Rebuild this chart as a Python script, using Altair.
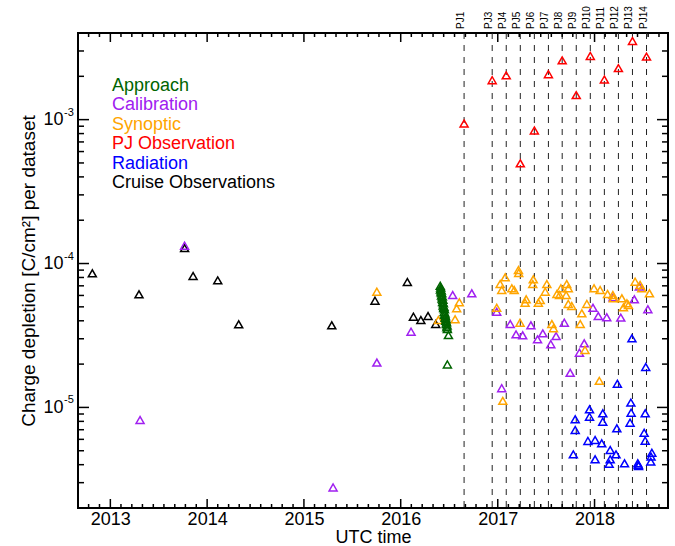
import altair as alt
import pandas as pd

# ---------------- data ----------------
# Perijove passes marked by dashed lines (PJ2 has no entry)
pj_names = ["PJ1", "PJ3", "PJ4", "PJ5", "PJ6", "PJ7", "PJ8", "PJ9",
            "PJ10", "PJ11", "PJ12", "PJ13", "PJ14"]
pj_dates = ["2016-08-27", "2016-12-11", "2017-02-02", "2017-03-27", "2017-05-19",
            "2017-07-11", "2017-09-01", "2017-10-24", "2017-12-16", "2018-02-07",
            "2018-04-01", "2018-05-24", "2018-07-16"]

cruise_dates = ["2012-10-25", "2013-04-19", "2013-10-08", "2013-11-09", "2014-02-10",
                "2014-04-30", "2015-04-16", "2015-09-26", "2016-01-26", "2016-02-18",
                "2016-03-17", "2016-04-13", "2016-05-12"]
cruise_vals = [8.55e-5, 6.11e-5, 1.28e-4, 8.19e-5, 7.64e-5,
               3.78e-5, 3.72e-5, 5.52e-5, 7.44e-5, 4.27e-5,
               4.05e-5, 4.32e-5, 3.80e-5]

calib_dates = ["2013-04-23", "2013-10-08", "2015-04-21", "2015-10-03", "2016-02-09",
               "2016-07-15", "2016-09-25", "2016-12-28", "2017-01-16", "2017-02-17",
               "2017-03-11", "2017-04-05", "2017-05-06", "2017-05-31", "2017-06-20",
               "2017-07-20", "2017-08-09", "2017-09-09", "2017-10-01", "2017-11-05",
               "2017-11-23", "2017-12-26", "2018-01-15", "2018-02-16", "2018-03-12",
               "2018-04-10", "2018-05-31", "2018-06-19", "2018-07-21"]
calib_vals = [8.18e-6, 1.33e-4, 2.78e-6, 2.05e-5, 3.36e-5,
              6.04e-5, 6.21e-5, 4.62e-5, 1.36e-5, 3.80e-5,
              3.22e-5, 3.17e-5, 3.72e-5, 2.97e-5, 3.27e-5,
              2.75e-5, 3.13e-5, 3.88e-5, 1.74e-5, 2.40e-5,
              2.79e-5, 4.93e-5, 4.32e-5, 4.23e-5, 5.82e-5,
              4.21e-5, 5.64e-5, 6.92e-5, 4.81e-5]

synop_dates = ["2015-10-03", "2016-05-22", "2016-07-24", "2016-07-30", "2016-08-09",
               "2016-12-28", "2017-01-10", "2017-01-16", "2017-01-20", "2017-01-29",
               "2017-02-23", "2017-03-04", "2017-03-20", "2017-03-21", "2017-03-26",
               "2017-04-14", "2017-04-18", "2017-05-13", "2017-05-15", "2017-06-03",
               "2017-06-10", "2017-06-29", "2017-07-05", "2017-07-24", "2017-07-30",
               "2017-08-12", "2017-08-22", "2017-08-27", "2017-09-16", "2017-09-18",
               "2017-09-24", "2017-09-24", "2017-10-07", "2017-11-08", "2017-11-14",
               "2017-11-26", "2017-12-03", "2017-12-30", "2018-01-19", "2018-01-22",
               "2018-02-19", "2018-03-11", "2018-03-13", "2018-04-14", "2018-04-20",
               "2018-05-03", "2018-05-09", "2018-06-03", "2018-06-22", "2018-06-28",
               "2018-07-27"]
synop_vals = [6.37e-5, 4.05e-5, 4.10e-5, 4.89e-5, 5.38e-5,
              4.93e-5, 7.21e-5, 6.55e-5, 1.11e-5, 8.02e-5,
              6.73e-5, 6.55e-5, 9.02e-5, 8.60e-5, 3.88e-5,
              5.34e-5, 5.64e-5, 7.21e-5, 7.77e-5, 5.34e-5,
              5.58e-5, 6.37e-5, 7.21e-5, 3.80e-5, 3.55e-5,
              6.14e-5, 6.04e-5, 6.73e-5, 6.04e-5, 7.21e-5,
              6.73e-5, 5.24e-5, 5.07e-5, 3.80e-5, 4.51e-5,
              2.51e-5, 5.24e-5, 6.73e-5, 1.53e-5, 6.55e-5,
              6.14e-5, 6.04e-5, 5.73e-5, 5.73e-5, 4.96e-5,
              5.29e-5, 5.15e-5, 7.48e-5, 7.10e-5, 6.73e-5,
              6.21e-5]

approach_dates = ["2016-05-29", "2016-05-30", "2016-05-31", "2016-06-01", "2016-06-02",
                  "2016-06-03", "2016-06-04", "2016-06-05", "2016-06-06", "2016-06-07",
                  "2016-06-08", "2016-06-09", "2016-06-10", "2016-06-11", "2016-06-12",
                  "2016-06-13", "2016-06-14", "2016-06-15", "2016-06-16", "2016-06-17",
                  "2016-06-18", "2016-06-19", "2016-06-20", "2016-06-21", "2016-06-22",
                  "2016-06-23", "2016-06-24", "2016-06-25", "2016-06-25", "2016-06-29"]
approach_vals = [7.0e-5, 6.6e-5, 6.8e-5, 6.3e-5, 6.5e-5,
                 6.0e-5, 6.2e-5, 5.7e-5, 5.9e-5, 5.4e-5,
                 5.6e-5, 5.1e-5, 5.3e-5, 4.9e-5, 5.0e-5,
                 4.6e-5, 4.8e-5, 4.4e-5, 4.5e-5, 4.2e-5,
                 4.3e-5, 4.0e-5, 4.1e-5, 3.8e-5, 3.9e-5,
                 3.6e-5, 3.7e-5, 3.5e-5, 1.99e-5, 3.18e-5]

pj_obs_vals = [9.4e-4, 1.88e-3, 2.03e-3, 4.97e-4, 8.4e-4, 2.07e-3, 2.58e-3,
               1.48e-3, 2.77e-3, 1.90e-3, 2.28e-3, 3.52e-3, 2.74e-3]

rad_dates = ["2017-10-13", "2017-10-20", "2017-10-20", "2017-12-07", "2017-12-13",
             "2017-12-13", "2018-01-03", "2018-01-03", "2018-01-28", "2018-02-01",
             "2018-02-01", "2018-02-25", "2018-03-01", "2018-03-01", "2018-03-23",
             "2018-03-26", "2018-03-28", "2018-04-24", "2018-05-15", "2018-05-18",
             "2018-05-19", "2018-05-22", "2018-06-13", "2018-06-15", "2018-06-16",
             "2018-07-07", "2018-07-11", "2018-07-11", "2018-07-13", "2018-08-01",
             "2018-08-02", "2018-08-05"]
rad_vals = [4.72e-6, 8.28e-6, 6.97e-6, 5.85e-6, 9.70e-6,
            8.62e-6, 5.94e-6, 4.36e-6, 5.63e-6, 9.10e-6,
            7.96e-6, 4.05e-6, 5.06e-6, 4.36e-6, 4.72e-6,
            7.16e-6, 1.46e-5, 4.09e-6, 7.83e-6, 1.08e-5,
            9.19e-6, 3.02e-5, 4.09e-6, 4.00e-6, 3.92e-6,
            6.67e-6, 9.10e-6, 5.87e-6, 1.91e-5, 4.20e-6,
            4.55e-6, 4.84e-6]

groups = ["Approach", "Calibration", "Synoptic", "PJ Observation", "Radiation",
          "Cruise Observations"]
group_colors = ["#006400", "#A020F0", "#FFA500", "#FF0000", "#0000FF", "#000000"]

y_major = [1e-5, 1e-4, 1e-3]
y_exponents = ["-5", "-4", "-3"]
years = [2013, 2014, 2015, 2016, 2017, 2018]

# ---------------- tables ----------------
series = [
    ("Cruise Observations", cruise_dates, cruise_vals),
    ("Calibration", calib_dates, calib_vals),
    ("Synoptic", synop_dates, synop_vals),
    ("Approach", approach_dates, approach_vals),
    ("PJ Observation", pj_dates, pj_obs_vals),
    ("Radiation", rad_dates, rad_vals),
]
rows = []
for name, ds, vs in series:
    rows += [{"date": d, "value": v, "group": name} for d, v in zip(ds, vs)]
points = pd.DataFrame(rows)

pj = pd.DataFrame({"date": pj_dates, "name": pj_names})

# year ticks and nine minor divisions per year
x_major = pd.DataFrame({"date": [f"{y}-01-01" for y in years]})
minor = []
for y in range(2012, 2019):
    start, end = pd.Timestamp(f"{y}-01-01"), pd.Timestamp(f"{y + 1}-01-01")
    for k in range(1, 9):
        t = start + (end - start) * k / 9
        if pd.Timestamp("2012-09-01") < t < pd.Timestamp("2018-10-05"):
            minor.append(t.strftime("%Y-%m-%d"))
x_minor = pd.DataFrame({"date": minor})

y_minor_vals = [m * 10.0 ** e for e in range(-6, -2) for m in range(2, 10)
                if 2e-6 < m * 10.0 ** e < 4e-3]
y_maj = pd.DataFrame({"value": y_major, "exp": y_exponents})
y_min = pd.DataFrame({"value": y_minor_vals})

W, H = 590, 475
FONT = "Liberation Sans"

xs = alt.Scale(type="utc", domain=[alt.DateTime(year=2012, month=9, date=1, utc=True),
                                   alt.DateTime(year=2018, month=10, date=5, utc=True)])
ys = alt.Scale(type="log", domain=[2e-6, 4e-3], nice=False)

x_axis = alt.Axis(
    values=[alt.DateTime(year=y, month=1, date=1, utc=True) for y in years],
    format="%Y", formatType="utc", ticks=False, domain=False, grid=False,
    labelFontSize=18, labelPadding=2, labelColor="black", labelFont=FONT,
    title="UTC time", titleFontSize=18, titleFontWeight="normal", titleFont=FONT,
    titleColor="black", titlePadding=0)
y_axis = alt.Axis(
    values=y_major, labelExpr="'10'", ticks=False, domain=False, grid=False,
    labelFontSize=18, labelPadding=15, labelColor="black", labelFont=FONT,
    title="Charge depletion [C/cm²] per dataset", titleFontSize=19,
    titleFontWeight="normal", titleFont=FONT, titleColor="black",
    titleX=-50, titleY=H / 2, titleAngle=270, titleAlign="center",
    titleBaseline="middle")

# every layer shares the same scales and axis definitions
X = lambda: alt.X("date:T", scale=xs, axis=x_axis)
Y = lambda: alt.Y("value:Q", scale=ys, axis=y_axis)

# ---------------- layers ----------------
pj_lines = alt.Chart(pj).mark_rule(color="#222222", strokeWidth=1, strokeDash=[6, 6]).encode(
    x=X(), y=alt.value(0), y2=alt.value(H))

pj_labels = alt.Chart(pj).mark_text(
    angle=270, align="left", baseline="alphabetic", fontSize=10, font=FONT, color="black"
).encode(x=X(), y=alt.value(-4), text="name:N")

scatter = alt.Chart(points).mark_point(
    shape="triangle-up", filled=False, size=64, strokeWidth=1.5, opacity=1
).encode(
    x=X(), y=Y(),
    color=alt.Color("group:N", scale=alt.Scale(domain=groups, range=group_colors),
                    legend=None),
)

exps = alt.Chart(y_maj).mark_text(
    align="left", baseline="middle", fontSize=11, font=FONT, color="black", dy=-7
).encode(y=Y(), x=alt.value(-14), text="exp:N")

tick = dict(color="black", strokeWidth=1.5)
xb_major = alt.Chart(x_major).mark_rule(**tick).encode(x=X(), y=alt.value(H), y2=alt.value(H - 9))
xt_major = alt.Chart(x_major).mark_rule(**tick).encode(x=X(), y=alt.value(0), y2=alt.value(9))
xb_minor = alt.Chart(x_minor).mark_rule(**tick).encode(x=X(), y=alt.value(H), y2=alt.value(H - 4))
xt_minor = alt.Chart(x_minor).mark_rule(**tick).encode(x=X(), y=alt.value(0), y2=alt.value(4))
yl_major = alt.Chart(y_maj).mark_rule(**tick).encode(y=Y(), x=alt.value(0), x2=alt.value(11))
yr_major = alt.Chart(y_maj).mark_rule(**tick).encode(y=Y(), x=alt.value(W), x2=alt.value(W - 11))
yl_minor = alt.Chart(y_min).mark_rule(**tick).encode(y=Y(), x=alt.value(0), x2=alt.value(6))
yr_minor = alt.Chart(y_min).mark_rule(**tick).encode(y=Y(), x=alt.value(W), x2=alt.value(W - 6))

# category key in the upper left, one coloured line of text per group
key_layers = []
for i, (g, c) in enumerate(zip(groups, group_colors)):
    key_layers.append(
        alt.Chart(pd.DataFrame({"label": [g]})).mark_text(
            align="left", baseline="alphabetic", fontSize=18, font=FONT, color=c
        ).encode(x=alt.value(34), y=alt.value(58 + 19.4 * i), text="label:N")
    )

chart = alt.layer(
    pj_lines, scatter, xb_major, xt_major, xb_minor, xt_minor,
    yl_major, yr_major, yl_minor, yr_minor, exps, pj_labels, *key_layers
).properties(
    width=W, height=H,
    autosize=alt.AutoSizeParams(type="none"),
    padding={"left": 78, "top": 33, "right": 7, "bottom": 38},
    background="white",
).configure_view(stroke="black", strokeWidth=2)

chart.save("out.html", embed_options={"renderer": "svg", "actions": False})
